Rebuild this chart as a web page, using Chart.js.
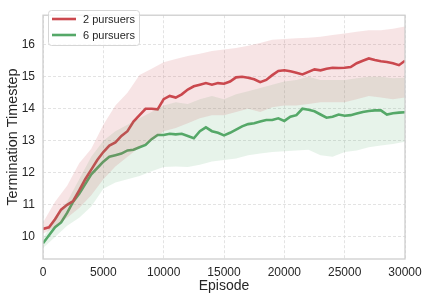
<!DOCTYPE html>
<html>
<head>
  <title>Termination Timestep</title>
  <script src="https://cdn.jsdelivr.net/npm/chart.js"></script>
  <style>
    body { margin: 0; background: #fff; }
    #wrap { width: 428px; height: 300px; }
  </style>
</head>
<body>
  <div id="wrap"><canvas id="myChart"></canvas></div>
  <script>
    // mean curves, one value every 500 episodes
    const episodes = [0, 500, 1000, 1500, 2000, 2500, 3000, 3500, 4000, 4500, 5000, 5500, 6000, 6500, 7000, 7500,
      8000, 8500, 9000, 9500, 10000, 10500, 11000, 11500, 12000, 12500, 13000, 13500, 14000, 14500, 15000, 15500,
      16000, 16500, 17000, 17500, 18000, 18500, 19000, 19500, 20000, 20500, 21000, 21500, 22000, 22500, 23000, 23500,
      24000, 24500, 25000, 25500, 26000, 26500, 27000, 27500, 28000, 28500, 29000, 29500, 30000];
    const pursuers2 = [10.25, 10.3, 10.55, 10.85, 11.0, 11.12, 11.45, 11.8, 12.1, 12.4, 12.65, 12.85, 12.95, 13.15, 13.3, 13.6,
      13.8, 14.0, 14.0, 13.98, 14.3, 14.4, 14.35, 14.45, 14.6, 14.7, 14.75, 14.8, 14.75, 14.8, 14.78, 14.85,
      14.98, 15.0, 14.97, 14.92, 14.83, 14.9, 15.05, 15.18, 15.2, 15.17, 15.12, 15.07, 15.15, 15.23, 15.2, 15.25,
      15.28, 15.27, 15.28, 15.3, 15.42, 15.5, 15.57, 15.52, 15.48, 15.46, 15.42, 15.36, 15.5];
    const pursuers6 = [9.8, 10.05, 10.3, 10.45, 10.75, 11.1, 11.35, 11.65, 11.95, 12.15, 12.35, 12.5, 12.55, 12.6, 12.7, 12.72,
      12.8, 12.87, 13.05, 13.18, 13.18, 13.22, 13.2, 13.22, 13.15, 13.08, 13.3, 13.42, 13.3, 13.25, 13.17, 13.25,
      13.35, 13.45, 13.52, 13.55, 13.6, 13.65, 13.65, 13.7, 13.62, 13.75, 13.8, 14.0, 13.97, 13.92, 13.82, 13.72,
      13.75, 13.82, 13.78, 13.8, 13.85, 13.9, 13.93, 13.95, 13.95, 13.82, 13.86, 13.88, 13.89];

    // shaded spread, one value every 1000 episodes
    const bandEpisodes = [0, 1000, 2000, 3000, 4000, 5000, 6000, 7000, 8000, 9000, 10000, 11000, 12000, 13000, 14000, 15000,
      16000, 17000, 18000, 19000, 20000, 21000, 22000, 23000, 24000, 25000, 26000, 27000, 28000, 29000, 30000];
    const upper2 = [10.45, 11.1, 11.6, 12.3, 12.75, 13.5, 14.1, 14.5, 15.05, 15.25, 15.45, 15.55, 15.65, 15.72, 15.8, 15.85,
      15.9, 15.97, 16.05, 16.15, 16.18, 16.2, 16.22, 16.25, 16.3, 16.35, 16.4, 16.45, 16.45, 16.5, 16.57];
    const lower2 = [10.1, 10.3, 10.6, 10.9, 11.3, 11.8, 12.2, 12.5, 12.8, 13.0, 13.3, 13.4, 13.55, 13.7, 13.8, 13.8,
      13.9, 14.0, 13.9, 14.05, 14.1, 14.1, 14.15, 14.2, 14.2, 14.2, 14.3, 14.4, 14.35, 14.3, 14.35];
    const upper6 = [9.95, 10.6, 11.1, 11.8, 12.5, 13.0, 13.3, 13.5, 13.7, 13.9, 14.1, 14.2, 14.15, 14.3, 14.4, 14.3,
      14.45, 14.55, 14.65, 14.75, 14.85, 14.9, 15.0, 14.9, 14.9, 14.9, 14.95, 15.0, 15.0, 14.95, 14.97];
    const lower6 = [9.65, 10.0, 10.35, 10.6, 10.95, 11.5, 11.7, 11.8, 11.9, 12.05, 12.18, 12.2, 12.18, 12.25, 12.35, 12.4,
      12.45, 12.55, 12.6, 12.65, 12.67, 12.7, 12.72, 12.55, 12.5, 12.65, 12.7, 12.8, 12.85, 12.9, 12.97];

    const xTicks = [0, 5000, 10000, 15000, 20000, 25000, 30000];
    const yTicks = [10, 11, 12, 13, 14, 15, 16];
    const labels = ['2 pursuers', '6 pursuers'];

    const red = 'rgb(203, 72, 78)';
    const green = 'rgb(85, 168, 104)';
    const font = '"Liberation Sans", Arial, sans-serif';
    const pts = (xs, ys) => xs.map((x, i) => ({ x: x, y: ys[i] }));
    const band = (ys, color, fill) => ({
      data: pts(bandEpisodes, ys), borderWidth: 0, pointRadius: 0,
      backgroundColor: color, fill: fill, tension: 0
    });

    const insideLegend = {
      id: 'insideLegend',
      afterDatasetsDraw(chart) {
        const ctx = chart.ctx;
        const a = chart.chartArea;
        ctx.save();
        // frame
        ctx.strokeStyle = '#cccccc';
        ctx.lineWidth = 1.25;
        ctx.strokeRect(a.left, a.top, a.right - a.left, a.bottom - a.top);
        // legend box
        const bx = 48.5, by = 10.5, bw = 91, bh = 35;
        ctx.beginPath();
        ctx.roundRect(bx, by, bw, bh, 3);
        ctx.fillStyle = 'rgba(255,255,255,0.8)';
        ctx.fill();
        ctx.strokeStyle = '#d6d6d6';
        ctx.lineWidth = 1;
        ctx.stroke();
        const colors = [red, green];
        ctx.font = '11px ' + font;
        ctx.textBaseline = 'middle';
        labels.forEach((t, i) => {
          const y = 19 + i * 16;
          ctx.strokeStyle = colors[i];
          ctx.lineWidth = 2.6;
          ctx.beginPath();
          ctx.moveTo(52, y);
          ctx.lineTo(76, y);
          ctx.stroke();
          ctx.fillStyle = '#262626';
          ctx.fillText(t, 83, y + 0.5);
        });
        ctx.restore();
      }
    };

    const ctx = document.getElementById('myChart').getContext('2d');
    const chart = new Chart(ctx, {
      type: 'line',
      data: {
        datasets: [
          band(upper2, 'rgba(203, 72, 78, 0.15)', '+1'),
          band(lower2, 'rgba(0,0,0,0)', false),
          band(upper6, 'rgba(85, 168, 104, 0.14)', '+1'),
          band(lower6, 'rgba(0,0,0,0)', false),
          {
            label: labels[0], data: pts(episodes, pursuers2), borderColor: red,
            borderWidth: 2.6, pointRadius: 0, fill: false, tension: 0
          },
          {
            label: labels[1], data: pts(episodes, pursuers6), borderColor: green,
            borderWidth: 2.6, pointRadius: 0, fill: false, tension: 0
          }
        ]
      },
      options: {
        responsive: true,
        maintainAspectRatio: false,
        animation: false,
        layout: { padding: { top: 5, right: 23, left: 0, bottom: 0 } },
        plugins: { legend: { display: false }, tooltip: { enabled: false } },
        scales: {
          x: {
            type: 'linear', min: 0, max: 30000,
            afterFit: s => { s.height = 41; },
            afterBuildTicks: s => { s.ticks = xTicks.map(v => ({ value: v })); },
            border: { display: false, dash: [3, 2] },
            grid: { color: '#dcdcdc', lineWidth: 0.8, drawTicks: false },
            ticks: {
              padding: 6, color: '#262626', maxRotation: 0,
              callback: v => String(v),
              font: { family: font, size: 12 }
            },
            title: {
              display: true, text: 'Episode', color: '#262626', padding: { top: 0, bottom: 5 },
              font: { family: font, size: 14 }
            }
          },
          y: {
            min: 9.31, max: 16.92,
            afterFit: s => { s.width = 43; },
            afterBuildTicks: s => { s.ticks = yTicks.map(v => ({ value: v })); },
            border: { display: false, dash: [3, 2] },
            grid: { color: '#dcdcdc', lineWidth: 0.8, drawTicks: false },
            ticks: {
              padding: 8, color: '#262626',
              callback: v => String(v),
              font: { family: font, size: 12 }
            },
            title: {
              display: true, text: 'Termination Timestep', color: '#262626', padding: { top: 4, bottom: 0 },
              font: { family: font, size: 14.4 }
            }
          }
        }
      },
      plugins: [insideLegend]
    });
  </script>
</body>
</html>
